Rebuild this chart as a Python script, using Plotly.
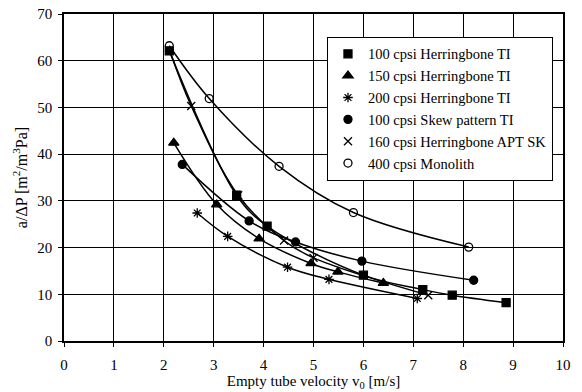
import plotly.graph_objects as go

# ---- data ----
sq_x = [2.11, 3.46, 4.07, 6.00, 7.19, 7.78, 8.86]
sq_y = [62.1, 31.2, 24.6, 14.1, 11.0, 9.8, 8.2]

tri_x = [2.20, 3.06, 3.91, 4.95, 5.49, 6.40]
tri_y = [42.4, 29.2, 21.9, 16.6, 14.8, 12.4]

ast_x = [2.67, 3.28, 4.48, 5.31, 7.08]
ast_y = [27.4, 22.4, 15.8, 13.2, 9.1]

skew_x = [2.37, 3.71, 4.64, 5.97, 8.21]
skew_y = [37.8, 25.7, 21.2, 17.1, 13.0]

apt_x = [2.55, 3.49, 4.41, 5.00, 7.30]
apt_y = [50.3, 31.2, 21.5, 17.8, 9.8]
apt_line_start_x = [2.13]
apt_line_start_y = [61.8]

mono_x = [2.11, 2.91, 4.31, 5.80, 8.11]
mono_y = [63.2, 51.9, 37.4, 27.5, 20.1]

x_ticks = [0, 1, 2, 3, 4, 5, 6, 7, 8, 9, 10]
y_ticks = [0, 10, 20, 30, 40, 50, 60, 70]

names = ["100 cpsi Herringbone TI", "150 cpsi Herringbone TI", "200 cpsi Herringbone TI",
         "100 cpsi Skew pattern TI", "160 cpsi Herringbone APT SK", "400 cpsi Monolith"]

series = [
    (sq_x, sq_y, sq_x, sq_y, "square", 8),
    (tri_x, tri_y, tri_x, tri_y, "triangle-up", 9),
    (ast_x, ast_y, ast_x, ast_y, "asterisk-open", 8),
    (skew_x, skew_y, skew_x, skew_y, "circle", 8),
    (apt_x, apt_y, apt_line_start_x + apt_x, apt_line_start_y + apt_y, "x-thin-open", 8),
    (mono_x, mono_y, mono_x, mono_y, "circle-open", 8),
]

FONT = "Liberation Serif, Times New Roman, serif"
fig = go.Figure()

for (mx, my, lx, ly, sym, size), name in zip(series, names):
    fig.add_trace(go.Scatter(x=lx, y=ly, mode="lines", line=dict(color="black", width=1.5, shape="spline"),
                             showlegend=False, hoverinfo="skip"))
for (mx, my, lx, ly, sym, size), name in zip(series, names):
    fig.add_trace(go.Scatter(x=mx, y=my, mode="markers", name=name,
                             marker=dict(symbol=sym, size=size, color="black",
                                         line=dict(color="black", width=1.3))))

fig.update_layout(
    width=574, height=384,
    margin=dict(l=56, r=19, t=6, b=51, autoexpand=False),
    paper_bgcolor="white", plot_bgcolor="white",
    font=dict(family=FONT, size=15, color="black"),
    legend=dict(x=0.527, y=0.93, xanchor="left", yanchor="top",
                bgcolor="white", bordercolor="black", borderwidth=1,
                font=dict(family=FONT, size=14.5, color="black"),
                itemwidth=30, tracegroupgap=0),
)
fig.update_xaxes(range=[0, 10], tickvals=x_ticks, showgrid=True, gridcolor="black", gridwidth=1,
                 showline=True, linecolor="black", linewidth=1.5, mirror=True,
                 ticks="outside", ticklen=4, tickcolor="black", zeroline=False,
                 automargin=False, ticklabelstandoff=5, ticklabeloverflow="allow",
                 tickfont=dict(family=FONT, size=15, color="black"),
                 title=dict(text="Empty tube velocity v<sub>0</sub> [m/s]", standoff=4,
                            font=dict(family=FONT, size=15, color="black")))
fig.update_yaxes(range=[0, 70], tickvals=y_ticks, showgrid=True, gridcolor="black", gridwidth=1,
                 showline=True, linecolor="black", linewidth=1.5, mirror=True,
                 ticks="outside", ticklen=4, tickcolor="black", zeroline=False,
                 automargin=False, ticklabelstandoff=3, ticklabeloverflow="allow",
                 tickfont=dict(family=FONT, size=15, color="black"),
                 title=dict(text="a/ΔP [m<sup>2</sup>/m<sup>3</sup>Pa]", standoff=6,
                            font=dict(family=FONT, size=16, color="black")))

fig.write_html("out.html")
